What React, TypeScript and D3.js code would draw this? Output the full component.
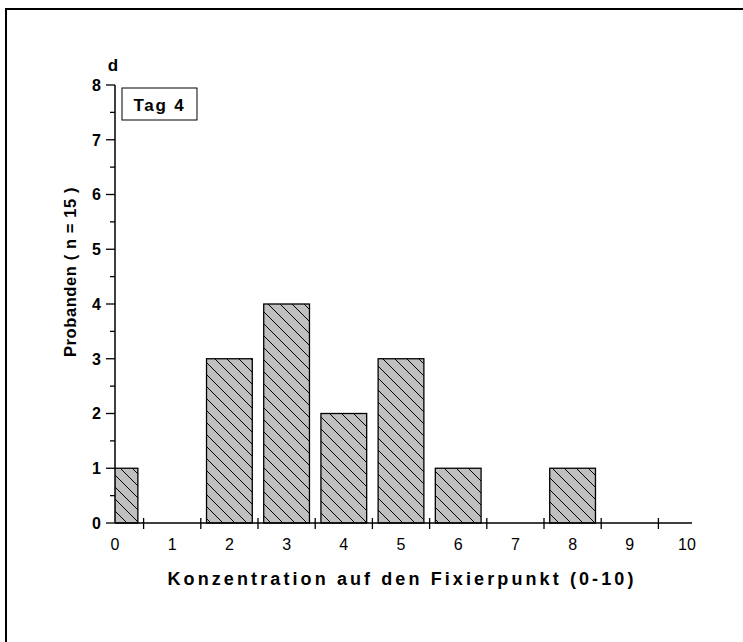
import React from "react";
import * as d3 from "d3";

const categories: number[] = [0, 1, 2, 3, 4, 5, 6, 7, 8, 9, 10];
const counts: number[] = [1, 0, 3, 4, 2, 3, 1, 0, 1, 0, 0];
const yTicks: number[] = [0, 1, 2, 3, 4, 5, 6, 7, 8];
const yMinor: number[] = [0.5, 1.5, 2.5, 3.5, 4.5, 5.5, 6.5, 7.5];
const xBoundaries: number[] = [0.5, 1.5, 2.5, 3.5, 4.5, 5.5, 6.5, 7.5, 8.5, 9.5];
const xTitle = "Konzentration auf den Fixierpunkt (0-10)";
const yTitle = "Probanden ( n = 15 )";
const panelLabel = "d";
const boxLabel = "Tag 4";

const W = 743;
const H = 642;
const left = 115;
const bottom = 523;
const top = 85;

export default function App() {
  const x = d3.scaleLinear().domain([0, 10]).range([left, 687]);
  const y = d3.scaleLinear().domain([0, 8]).range([bottom, top]);
  const barW = (x(1) - x(0)) * 0.8;
  const font = "'Liberation Sans', Arial, sans-serif";

  return (
    <svg
      width={W}
      height={H}
      style={{ position: "absolute", left: 0, top: 0, background: "#fff" }}
      fontFamily={font}
    >
      <defs>
        <pattern id="hatch" patternUnits="userSpaceOnUse" width={12} height={12}>
          <rect width={12} height={12} fill="#c0c0c0" />
          <path d="M0,0 L12,12 M-3,9 L3,15 M9,-3 L15,3" stroke="#000" strokeWidth={1} />
        </pattern>
        <clipPath id="plotClip">
          <rect x={left} y={0} width={W - left} height={bottom + 1} />
        </clipPath>
      </defs>
      <rect x={6} y={9} width={W + 20} height={H + 20} fill="none" stroke="#000" strokeWidth={2} />

      <g clipPath="url(#plotClip)">
        {categories.map((c, i) =>
          counts[i] > 0 ? (
            <rect
              key={c}
              x={x(c) - barW / 2}
              y={y(counts[i])}
              width={barW}
              height={y(0) - y(counts[i])}
              fill="url(#hatch)"
              stroke="#000"
              strokeWidth={1.3}
            />
          ) : null
        )}
      </g>

      {/* y axis */}
      <line x1={left} x2={left} y1={top} y2={bottom} stroke="#000" strokeWidth={1.5} />
      {yTicks.map((t) => (
        <g key={t}>
          <line x1={left - 9} x2={left} y1={y(t)} y2={y(t)} stroke="#000" strokeWidth={1.3} />
          <text
            x={left - 14}
            y={y(t)}
            dy="0.36em"
            textAnchor="end"
            fontSize={16}
            fontWeight="bold"
          >
            {t}
          </text>
        </g>
      ))}
      {yMinor.map((t) => (
        <line key={t} x1={left - 5} x2={left} y1={y(t)} y2={y(t)} stroke="#000" strokeWidth={1.3} />
      ))}

      {/* x axis */}
      <line x1={left} x2={692} y1={bottom} y2={bottom} stroke="#000" strokeWidth={1.5} />
      {xBoundaries.map((b) => (
        <line key={b} x1={x(b)} x2={x(b)} y1={bottom - 5} y2={bottom + 6} stroke="#000" strokeWidth={1.3} />
      ))}
      {categories.map((c) => (
        <text key={c} x={x(c)} y={bottom + 27} textAnchor="middle" fontSize={16}>
          {c}
        </text>
      ))}

      <text
        x={402}
        y={585}
        textAnchor="middle"
        fontSize={18}
        fontWeight="bold"
        letterSpacing={3.1}
      >
        {xTitle}
      </text>
      <text
        transform={`translate(76,272) rotate(-90)`}
        textAnchor="middle"
        fontSize={16.5}
        fontWeight="bold"
        letterSpacing={0.6}
      >
        {yTitle}
      </text>

      <text x={113} y={71} textAnchor="middle" fontSize={17} fontWeight="bold">
        {panelLabel}
      </text>
      <rect x={122} y={88} width={75} height={32} fill="#fff" stroke="#000" strokeWidth={1} />
      <text x={159.5} y={111} textAnchor="middle" fontSize={17} fontWeight="bold" letterSpacing={1.8}>
        {boxLabel}
      </text>
    </svg>
  );
}
